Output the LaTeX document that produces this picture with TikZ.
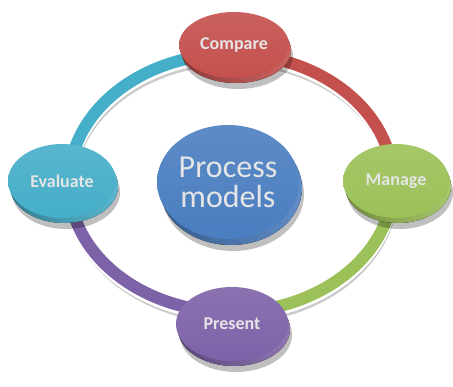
\documentclass[tikz,border=0pt]{standalone}
\usepackage{fontspec}
\setmainfont{Carlito}
\usetikzlibrary{shapes.geometric,shadows}
\definecolor{cRed}{HTML}{C4504D}
\definecolor{cCyan}{HTML}{45AEC8}
\definecolor{cGreen}{HTML}{9CC158}
\definecolor{cPurple}{HTML}{7E62A8}
\definecolor{cBlue}{HTML}{4A7EC0}
\tikzset{
  disc/.style={ellipse, inner sep=0pt, text=white!90!black,
    font=\bfseries\fontsize{18}{20}\selectfont},
  face/.style={top color=#1!90!white, bottom color=#1},
  rim/.style={left color=#1!72!black, right color=#1!88!white,
    drop shadow={shadow xshift=2pt, shadow yshift=-6pt, opacity=0.25, fill=black}},
  band/.style={line width=12pt, draw=#1},
  bandshadow/.style={line width=9pt, draw=black!45, opacity=0.45,
    transform canvas={xshift=1pt, yshift=-7pt}},
  bandlight/.style={line width=12pt, draw=white, transform canvas={yshift=-3pt}},
}
\begin{document}
\begin{tikzpicture}[x=1pt,y=1pt]
\useasboundingbox (0,0) rectangle (453,387);
% ring anchor points
\coordinate (ringL) at (69,204);
\coordinate (ringT) at (231,333);
\coordinate (ringR) at (393,204);
\coordinate (ringB) at (231,75);
% ring shadow and light strip
\foreach \s in {bandshadow,bandlight}{
  \draw[\s] (69,204) arc[start angle=180, end angle=-180, x radius=162pt, y radius=129pt];
}
% ring bands
\draw[band=cCyan]   (ringL) arc[start angle=180, end angle=90,  x radius=162pt, y radius=129pt];
\draw[band=cRed]    (ringT) arc[start angle=90,  end angle=0,   x radius=162pt, y radius=129pt];
\draw[band=cGreen]  (ringR) arc[start angle=0,   end angle=-90, x radius=162pt, y radius=129pt];
\draw[band=cPurple] (ringB) arc[start angle=270, end angle=180, x radius=162pt, y radius=129pt];
% Compare
\fill[rim=cRed] (236,337) ellipse [x radius=55pt, y radius=33pt];
\node[disc, face=cRed, minimum width=110pt, minimum height=66pt] (compare) at (234,342) {Compare};
% Evaluate
\fill[rim=cCyan] (64,201) ellipse [x radius=54pt, y radius=37pt];
\node[disc, face=cCyan, minimum width=108pt, minimum height=74pt] (evaluate) at (62,206) {Evaluate};
% Manage
\fill[rim=cGreen] (398,201) ellipse [x radius=53pt, y radius=37pt];
\node[disc, face=cGreen, minimum width=106pt, minimum height=74pt] (manage) at (396,206) {Manage};
% Present
\fill[rim=cPurple] (234,58) ellipse [x radius=56pt, y radius=37pt];
\node[disc, face=cPurple, minimum width=112pt, minimum height=74pt] (present) at (232,63) {Present};
% centre
\fill[rim=cBlue] (231,199) ellipse [x radius=71pt, y radius=57pt];
\node[disc, face=cBlue, minimum width=142pt, minimum height=114pt,
  font=\fontsize{32}{30}\selectfont, align=center] (process) at (228,205) {Process\\models};
\end{tikzpicture}
\end{document}
